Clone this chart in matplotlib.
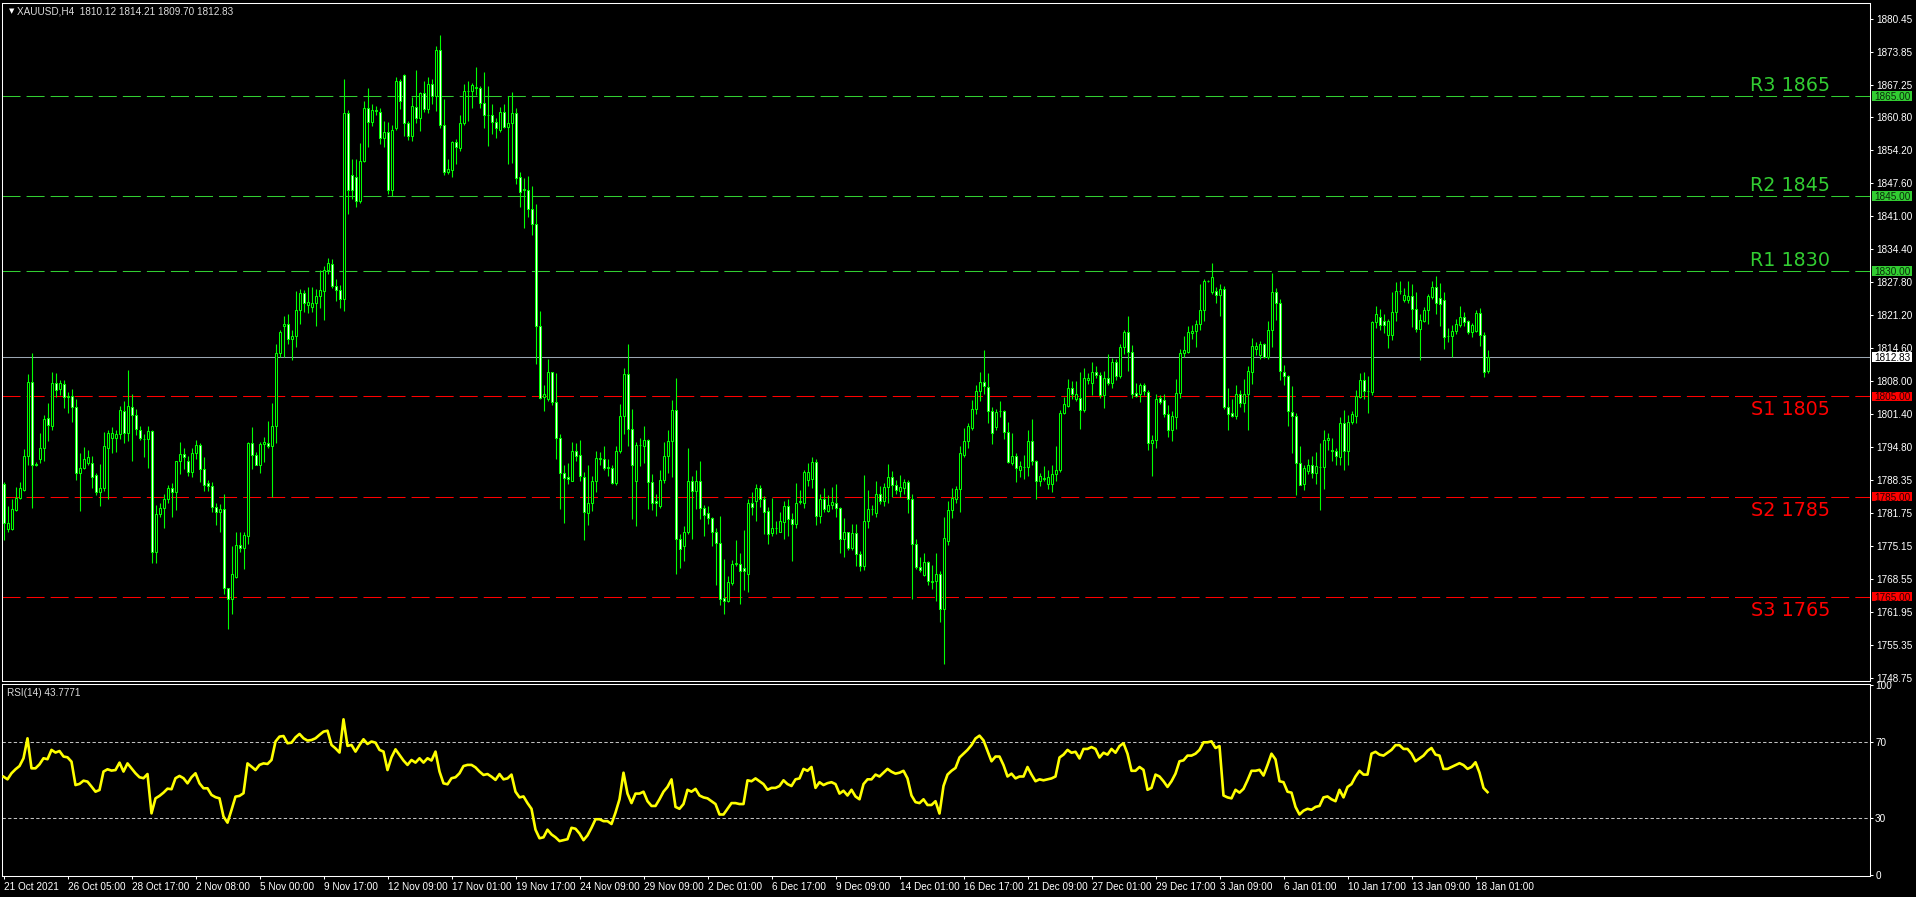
import matplotlib
matplotlib.use("Agg")
import matplotlib.pyplot as plt
import matplotlib.transforms as mtransforms
from matplotlib.patches import Rectangle
import numpy as np

# ---------------- data ----------------
symbol = "XAUUSD,H4"
opens = [
1787.6,1778.6,1778.5,1782.3,1784.8,1786.3,1793.1,1807.8,1791.6,1792.5,
1794.6,1800.6,1799.1,1807.6,1806.5,1807.4,1805.0,1805.0,1802.9,1789.8,
1790.8,1791.7,1791.8,1789.4,1785.9,1786.7,1794.6,1796.6,1796.6,1797.5,
1802.0,1797.6,1802.9,1801.2,1798.3,1796.4,1796.4,1798.1,1773.9,1781.5,
1782.8,1784.5,1786.7,1785.9,1792.1,1793.5,1792.2,1790.0,1793.7,1795.2,
1790.6,1787.7,1787.1,1783.0,1782.0,1782.6,1766.8,1764.6,1768.9,1775.3,
1774.7,1777.2,1795.7,1793.3,1791.3,1795.4,1795.7,1795.0,1799.1,1813.6,
1819.0,1819.4,1816.5,1817.1,1822.3,1825.6,1823.3,1822.8,1823.7,1825.0,
1826.1,1830.2,1831.4,1827.0,1826.2,1824.5,1861.6,1849.2,1848.8,1844.1,
1852.1,1862.7,1859.8,1862.0,1861.8,1856.7,1857.9,1846.2,1858.7,1867.9,
1869.1,1859.6,1857.1,1862.9,1860.6,1865.5,1862.5,1867.4,1865.0,1874.1,
1859.2,1849.9,1850.2,1855.8,1854.6,1859.6,1865.9,1866.0,1866.6,1866.6,
1863.7,1861.2,1861.2,1859.8,1858.2,1861.8,1858.9,1859.6,1861.6,1848.8,
1846.4,1846.3,1842.4,1839.4,1819.0,1804.9,1804.5,1809.9,1803.8,1796.6,
1789.8,1788.9,1788.2,1794.0,1793.3,1789.0,1781.8,1783.8,1788.2,1792.6,
1792.5,1790.9,1790.7,1787.7,1794.0,1801.0,1809.5,1798.5,1788.2,1795.2,
1795.0,1796.2,1788.0,1784.2,1783.2,1788.4,1793.1,1796.1,1802.2,1776.5,
1775.1,1778.0,1788.1,1786.1,1788.1,1782.8,1781.7,1780.7,1778.0,1775.8,
1764.8,1764.1,1767.7,1771.6,1771.6,1770.8,1769.6,1783.8,1784.2,1786.7,
1784.5,1782.2,1777.8,1778.7,1778.0,1779.9,1783.2,1780.5,1779.5,1783.9,
1783.8,1788.4,1788.6,1791.9,1781.2,1784.5,1782.2,1783.4,1783.8,1782.8,
1776.6,1778.0,1774.7,1777.8,1773.5,1771.1,1780.1,1782.5,1781.7,1785.6,
1784.2,1786.9,1788.9,1787.3,1786.1,1786.7,1787.9,1784.6,1775.5,1770.9,
1769.3,1772.0,1768.0,1768.1,1769.6,1762.5,1776.1,1782.3,1784.5,1786.5,
1793.3,1796.1,1798.7,1802.4,1806.0,1807.8,1806.8,1802.0,1798.9,1802.0,
1802.1,1797.9,1791.7,1793.1,1790.3,1791.0,1790.9,1796.1,1792.1,1788.1,
1788.6,1787.5,1787.5,1789.6,1790.3,1801.6,1803.0,1806.6,1804.5,1804.7,
1802.2,1808.3,1807.7,1809.9,1809.3,1805.3,1808.6,1807.7,1811.8,1809.1,
1814.9,1817.8,1813.8,1805.6,1805.5,1807.2,1805.9,1795.6,1796.2,1804.7,
1804.3,1801.4,1798.3,1800.8,1805.7,1813.6,1813.8,1817.7,1818.0,1819.4,
1822.3,1828.1,1825.9,1826.1,1825.2,1826.5,1802.8,1801.6,1801.0,1805.5,
1803.6,1805.5,1809.9,1814.4,1813.2,1815.5,1812.8,1818.2,1825.9,1823.7,
1809.9,1809.1,1801.9,1801.0,1791.7,1787.5,1790.1,1791.4,1789.8,1791.0,
1790.9,1796.2,1794.2,1794.1,1792.9,1799.7,1794.0,1799.9,1801.0,1804.9,
1808.2,1806.0,1805.8,1819.8,1820.8,1820.0,1817.3,1817.3,1821.9,1826.0,
1824.2,1824.3,1825.1,1822.5,1818.4,1820.1,1822.3,1824.8,1826.9,1824.6,
1824.2,1817.0,1817.1,1818.0,1819.2,1820.9,1820.0,1817.9,1818.0,1821.6,
1817.3,1810.12]
highs = [
1788.0,1783.1,1784.6,1787.0,1788.0,1794.4,1809.5,1813.6,1791.9,1797.7,
1801.2,1803.7,1809.9,1809.7,1808.2,1808.2,1805.9,1806.5,1804.5,1793.7,
1794.9,1794.3,1793.1,1789.8,1791.5,1797.9,1798.3,1798.9,1798.3,1803.1,
1804.1,1810.3,1805.5,1802.4,1799.1,1797.5,1799.1,1798.3,1783.4,1783.8,
1785.5,1787.3,1787.8,1792.1,1795.8,1794.7,1793.1,1794.6,1796.2,1795.6,
1792.9,1788.4,1787.9,1783.8,1783.6,1785.5,1766.8,1775.1,1778.0,1778.0,
1778.0,1795.8,1798.9,1793.9,1795.8,1796.9,1800.1,1803.7,1815.4,1818.2,
1821.1,1821.5,1818.2,1826.1,1826.4,1826.2,1826.9,1826.9,1826.4,1830.2,
1831.0,1832.7,1832.5,1828.5,1827.3,1868.4,1862.3,1852.5,1852.4,1855.7,
1864.1,1866.6,1863.5,1863.1,1862.6,1860.0,1859.8,1859.3,1868.7,1868.4,
1869.3,1860.0,1864.9,1870.2,1865.8,1867.9,1868.8,1868.3,1874.9,1877.2,
1864.5,1852.5,1856.0,1856.5,1861.2,1867.4,1868.0,1867.6,1870.7,1867.0,
1869.8,1867.0,1863.5,1860.6,1862.9,1863.5,1865.0,1865.8,1862.6,1849.9,
1848.6,1849.1,1847.1,1843.4,1822.1,1807.2,1812.4,1809.9,1809.7,1797.5,
1791.4,1791.7,1795.8,1795.6,1796.2,1790.0,1791.4,1789.2,1794.0,1793.9,
1795.0,1792.5,1791.3,1795.0,1803.4,1810.7,1815.5,1802.4,1795.8,1796.6,
1799.1,1796.4,1789.6,1785.6,1790.3,1795.8,1798.3,1804.3,1808.7,1777.6,
1779.2,1794.6,1789.2,1790.4,1792.1,1783.4,1783.1,1780.9,1778.8,1781.2,
1772.6,1769.1,1772.4,1776.4,1773.7,1778.4,1784.6,1785.9,1787.5,1787.3,
1785.1,1783.0,1784.8,1780.1,1782.0,1784.2,1784.6,1781.7,1787.7,1786.3,
1790.4,1791.7,1792.9,1792.5,1785.5,1786.7,1785.3,1786.9,1787.5,1783.0,
1780.7,1778.0,1779.5,1779.5,1774.1,1789.4,1786.3,1783.4,1788.1,1787.1,
1787.8,1791.5,1790.2,1788.4,1789.4,1788.6,1788.4,1785.5,1776.5,1773.0,
1773.7,1772.2,1771.4,1773.7,1770.2,1780.9,1784.2,1786.7,1787.1,1795.0,
1798.7,1799.7,1804.3,1807.2,1809.9,1814.3,1809.6,1802.8,1802.4,1804.1,
1802.2,1799.9,1797.7,1793.6,1792.2,1793.3,1798.3,1800.4,1792.3,1789.8,
1791.1,1790.4,1791.4,1795.0,1802.2,1804.9,1808.4,1808.0,1808.0,1809.9,
1810.7,1809.6,1811.9,1811.1,1809.9,1810.1,1813.4,1812.6,1812.4,1815.4,
1818.2,1821.1,1815.3,1807.7,1807.7,1807.7,1806.3,1797.2,1805.5,1805.3,
1805.5,1803.3,1802.0,1808.5,1814.4,1817.1,1819.0,1819.2,1820.2,1827.5,
1828.5,1828.3,1831.6,1826.9,1827.5,1827.0,1806.6,1804.5,1807.2,1806.3,
1808.5,1811.0,1816.7,1815.9,1816.1,1815.7,1820.1,1829.6,1826.7,1824.4,
1811.3,1809.3,1807.0,1801.6,1795.0,1791.3,1792.5,1793.1,1793.9,1795.6,
1798.3,1797.7,1796.6,1794.6,1800.8,1802.3,1801.2,1802.0,1806.3,1809.6,
1809.9,1809.1,1820.1,1823.0,1822.5,1821.5,1820.5,1825.8,1827.9,1828.1,
1826.7,1828.1,1827.4,1825.9,1821.5,1822.9,1825.4,1828.1,1829.1,1827.7,
1825.9,1818.7,1819.2,1820.5,1823.1,1821.9,1820.2,1819.6,1822.3,1822.7,
1817.9,1814.21]
lows = [
1776.4,1778.0,1778.4,1782.2,1784.6,1786.1,1791.3,1782.8,1791.1,1791.7,
1792.1,1796.1,1798.3,1804.9,1805.3,1802.7,1801.6,1799.9,1788.4,1782.2,
1790.6,1791.4,1786.7,1785.3,1783.2,1786.1,1784.6,1793.7,1793.9,1796.4,
1795.6,1796.1,1792.1,1797.2,1796.2,1792.9,1790.7,1771.8,1771.8,1780.9,
1778.7,1783.8,1780.9,1782.3,1789.6,1790.6,1789.2,1788.9,1792.5,1787.9,
1786.1,1786.1,1782.0,1779.3,1778.0,1765.6,1758.6,1761.5,1768.8,1773.9,
1770.6,1775.5,1790.6,1791.3,1789.8,1791.9,1794.6,1785.0,1795.6,1812.8,
1812.8,1815.4,1812.2,1814.9,1819.4,1821.9,1821.7,1821.9,1819.0,1822.6,
1820.2,1829.4,1826.7,1824.0,1822.7,1822.1,1841.4,1844.4,1842.8,1843.6,
1851.9,1854.9,1859.0,1861.2,1855.4,1854.9,1845.5,1845.1,1858.3,1862.5,
1857.1,1856.3,1856.0,1859.6,1858.1,1861.8,1861.6,1863.5,1862.1,1858.7,
1849.2,1849.4,1848.8,1851.5,1854.0,1859.2,1860.0,1862.6,1865.1,1862.6,
1858.7,1855.0,1857.5,1856.7,1857.9,1858.7,1851.5,1851.7,1847.4,1842.8,
1838.6,1840.8,1837.2,1811.5,1804.5,1802.0,1804.1,1803.3,1792.5,1782.6,
1779.8,1787.5,1788.1,1792.1,1788.1,1776.4,1779.4,1782.2,1785.9,1791.4,
1790.3,1789.2,1787.5,1787.3,1793.7,1797.5,1795.0,1780.5,1779.1,1791.1,
1791.8,1782.6,1782.3,1781.2,1782.8,1787.8,1789.8,1788.9,1769.6,1770.7,
1772.1,1777.6,1776.5,1782.6,1780.5,1777.2,1779.5,1775.1,1767.3,1763.3,
1761.6,1763.9,1767.4,1771.2,1763.5,1766.3,1766.0,1781.3,1780.2,1783.0,
1777.6,1775.5,1777.2,1777.6,1778.0,1776.5,1777.2,1772.1,1778.8,1783.6,
1782.8,1787.1,1786.7,1779.3,1779.8,1782.0,1782.0,1782.6,1780.9,1773.7,
1773.0,1774.3,1774.3,1771.2,1770.1,1770.4,1778.8,1781.3,1780.9,1783.6,
1783.1,1783.8,1785.0,1785.5,1785.0,1785.5,1781.7,1764.6,1770.6,1769.9,
1769.1,1767.3,1766.6,1764.1,1759.9,1751.5,1775.4,1780.7,1783.8,1782.0,
1792.9,1794.7,1798.3,1801.4,1804.1,1805.5,1799.7,1795.4,1798.3,1800.8,
1796.4,1791.7,1791.4,1788.0,1788.9,1788.6,1789.2,1791.4,1784.6,1787.1,
1788.1,1786.5,1785.9,1788.1,1790.0,1801.4,1802.9,1804.5,1804.1,1798.5,
1801.9,1807.4,1805.3,1808.7,1804.7,1802.7,1807.2,1806.6,1808.2,1808.6,
1813.4,1810.0,1804.7,1804.9,1803.9,1805.3,1794.2,1789.2,1794.6,1803.5,
1800.8,1796.9,1796.0,1798.5,1804.7,1812.8,1813.6,1816.5,1814.9,1818.2,
1820.1,1827.9,1825.5,1823.6,1821.1,1802.4,1798.3,1800.8,1800.4,1802.9,
1801.9,1798.3,1807.4,1813.2,1812.4,1812.6,1812.4,1814.9,1820.3,1808.2,
1807.2,1799.1,1793.6,1785.3,1787.3,1786.3,1789.6,1788.8,1787.5,1782.4,
1786.5,1794.2,1792.1,1791.3,1791.3,1790.3,1791.4,1799.4,1799.7,1804.7,
1804.5,1801.6,1805.2,1818.6,1818.2,1817.6,1814.6,1816.3,1820.0,1825.5,
1823.8,1823.6,1818.8,1817.8,1812.2,1819.8,1819.4,1824.4,1821.5,1819.0,
1814.4,1815.9,1812.8,1817.4,1818.8,1819.0,1817.5,1816.8,1817.8,1815.0,
1808.9,1809.70]
closes = [
1779.7,1779.7,1782.6,1784.8,1786.7,1793.1,1807.8,1791.4,1791.3,1794.6,
1800.4,1799.3,1807.6,1806.3,1807.6,1804.9,1804.8,1802.9,1789.8,1790.8,
1792.5,1792.9,1789.0,1785.9,1786.7,1795.0,1797.7,1797.7,1797.5,1802.2,
1797.6,1803.0,1801.2,1798.5,1796.6,1796.4,1798.1,1773.9,1781.5,1782.8,
1784.5,1786.7,1785.9,1792.1,1793.5,1792.9,1790.0,1793.7,1795.2,1790.6,
1787.3,1787.1,1783.0,1782.0,1782.6,1766.8,1764.6,1769.6,1775.3,1774.7,
1777.3,1795.7,1793.3,1791.4,1795.4,1795.8,1795.0,1799.1,1813.6,1817.8,
1819.4,1816.5,1817.1,1822.3,1825.6,1823.7,1823.8,1823.7,1825.0,1826.2,
1830.2,1831.6,1827.0,1826.2,1824.5,1861.6,1846.3,1846.3,1844.1,1852.1,
1862.7,1859.8,1862.2,1862.2,1856.7,1857.9,1846.2,1858.3,1867.9,1864.1,
1859.6,1857.1,1863.1,1860.6,1865.5,1862.5,1867.4,1865.0,1874.2,1859.2,
1849.9,1850.5,1855.8,1854.9,1859.6,1866.0,1866.0,1867.2,1866.8,1863.7,
1861.2,1861.3,1859.8,1858.6,1861.8,1858.9,1859.6,1861.6,1848.6,1845.9,
1846.3,1842.4,1839.4,1819.0,1804.7,1805.5,1809.9,1803.8,1796.6,1789.8,
1788.8,1788.6,1794.0,1793.2,1789.2,1781.9,1783.8,1788.2,1792.7,1792.7,
1790.8,1790.8,1787.7,1794.0,1801.0,1809.5,1798.5,1791.4,1795.2,1795.3,
1796.2,1788.0,1783.8,1783.8,1788.4,1793.1,1796.1,1802.2,1776.5,1774.5,
1778.0,1788.1,1786.1,1788.1,1782.8,1781.3,1780.7,1778.0,1775.8,1764.6,
1764.1,1767.9,1771.6,1771.7,1770.1,1770.1,1783.8,1783.0,1786.7,1784.5,
1782.0,1777.6,1778.8,1778.8,1780.1,1783.2,1780.5,1779.5,1783.8,1784.1,
1790.0,1790.0,1791.9,1781.2,1784.5,1782.6,1783.4,1783.9,1782.8,1776.6,
1778.0,1774.7,1777.8,1773.5,1771.1,1780.1,1782.6,1782.6,1785.6,1784.2,
1786.9,1788.9,1787.3,1786.3,1786.9,1787.9,1784.6,1775.5,1770.9,1770.4,
1772.0,1768.1,1768.1,1769.6,1762.5,1776.8,1782.3,1784.8,1786.5,1793.6,
1796.1,1799.1,1802.4,1806.0,1807.8,1807.0,1802.0,1797.6,1801.9,1802.1,
1797.9,1791.9,1793.1,1790.8,1791.1,1791.0,1796.1,1792.1,1788.1,1789.2,
1788.7,1788.9,1789.6,1790.4,1801.6,1803.5,1806.6,1805.5,1805.5,1802.2,
1808.6,1808.6,1809.9,1809.3,1805.3,1808.6,1807.7,1811.8,1809.1,1814.9,
1817.8,1813.8,1805.5,1805.1,1807.2,1806.0,1795.6,1796.2,1804.5,1803.9,
1801.4,1798.3,1801.0,1805.7,1813.6,1814.3,1817.8,1818.0,1819.4,1822.3,
1828.1,1828.1,1828.8,1825.2,1826.5,1802.8,1801.4,1801.0,1805.5,1803.6,
1805.5,1810.1,1815.0,1815.0,1815.5,1812.8,1818.2,1825.9,1823.7,1810.1,
1809.1,1802.0,1801.0,1791.7,1787.4,1790.8,1791.4,1789.8,1791.1,1791.0,
1796.2,1796.6,1794.1,1793.1,1799.7,1794.0,1799.9,1801.4,1805.1,1808.2,
1806.0,1806.0,1819.8,1821.4,1819.2,1819.2,1820.0,1821.9,1826.0,1826.1,
1825.2,1825.1,1822.5,1818.4,1820.2,1822.3,1825.1,1826.9,1823.6,1823.4,
1816.9,1817.1,1818.0,1819.4,1820.9,1819.8,1817.9,1819.2,1821.6,1817.3,
1809.9,1812.83]
rsi_values = [
51.9,50.5,53.7,55.8,57.5,61.6,72.1,56.3,56.3,58.4,
61.6,61.1,66.0,64.6,65.4,62.5,62.1,59.8,47.5,48.1,
49.8,49.3,46.7,44.0,44.9,54.6,55.8,55.1,55.4,59.3,
54.6,58.9,56.3,53.7,51.6,51.1,53.3,32.6,40.5,41.8,
43.5,45.6,45.3,51.1,52.3,51.1,48.4,51.6,53.7,48.4,
45.8,45.8,42.3,41.1,40.5,30.9,27.7,34.4,41.4,41.8,
43.2,58.9,57.2,55.4,58.1,58.9,58.6,60.7,70.4,73.0,
73.3,69.5,69.8,72.6,74.4,72.1,70.9,71.2,72.1,73.9,
75.6,76.1,68.6,66.8,64.6,82.1,68.1,68.6,65.1,68.6,
71.6,69.1,70.4,69.8,66.0,65.1,55.4,62.1,66.3,63.3,
60.4,58.1,60.7,59.3,61.6,59.3,61.6,60.4,65.1,54.6,
48.4,47.9,51.1,51.6,53.7,57.5,58.1,58.1,56.8,54.6,
52.8,53.3,51.9,50.2,53.3,50.5,51.0,53.0,44.0,41.0,
41.5,38.0,35.0,24.0,19.5,20.0,24.0,21.5,20.0,18.0,
18.5,19.0,25.0,24.5,22.0,18.5,21.0,25.0,29.5,29.5,
28.5,28.5,27.0,33.0,40.0,54.0,43.0,38.0,43.0,43.0,
44.0,39.0,36.5,36.5,40.0,44.0,46.5,50.5,36.0,35.0,
37.5,45.0,44.0,45.5,42.0,41.0,40.5,39.0,37.5,32.0,
32.0,35.0,38.0,38.0,37.5,37.5,50.0,49.5,51.0,49.5,
48.0,45.0,46.0,46.0,47.0,50.0,48.0,47.0,50.5,51.0,
56.0,55.0,57.0,46.0,49.0,47.5,48.5,49.0,48.0,43.0,
44.5,42.0,45.0,41.5,40.0,48.0,50.5,50.5,53.0,52.0,
54.0,56.0,54.5,53.5,54.0,55.0,51.0,42.0,38.5,38.0,
40.0,37.0,37.0,39.0,32.5,47.0,53.0,55.0,56.5,62.0,
64.0,66.0,68.5,72.0,73.5,71.0,65.5,60.0,62.5,62.5,
58.0,52.0,53.5,51.0,52.0,52.0,57.0,53.0,49.5,50.5,
50.0,50.5,51.0,52.0,62.0,63.5,66.0,64.5,65.0,61.5,
66.5,66.5,67.5,66.5,62.0,64.5,63.5,66.5,64.5,68.0,
69.5,64.0,55.0,55.0,57.0,55.5,45.0,46.0,53.0,52.0,
49.5,46.5,49.5,53.5,60.0,60.5,63.0,63.0,64.0,66.0,
70.0,70.0,70.5,67.0,68.0,42.0,41.0,40.5,45.0,43.5,
45.5,50.0,55.0,55.0,55.5,52.5,58.0,64.0,61.0,49.5,
49.0,44.0,43.5,36.0,32.0,34.0,35.0,34.5,36.0,36.5,
41.0,41.5,40.0,39.0,45.0,41.0,46.5,48.0,52.0,55.0,
53.0,53.0,64.0,65.0,63.5,63.0,64.5,66.0,68.5,68.5,
66.5,66.5,64.0,60.0,61.5,63.0,65.5,67.0,63.5,63.0,
56.0,56.0,57.0,58.0,59.0,58.0,56.0,57.0,59.5,54.0,
46.0,43.7771]

level_names = ["R3", "R2", "R1", "S1", "S2", "S3"]
level_values = [1865, 1845, 1830, 1805, 1785, 1765]

price_tick_labels = ["1880.45", "1873.85", "1867.25", "1860.80", "1854.20", "1847.60",
                     "1841.00", "1834.40", "1827.80", "1821.20", "1814.60", "1808.00",
                     "1801.40", "1794.80", "1788.35", "1781.75", "1775.15", "1768.55",
                     "1761.95", "1755.35", "1748.75"]
rsi_tick_labels = ["100", "70", "30", "0"]
date_labels = ["21 Oct 2021", "26 Oct 05:00", "28 Oct 17:00", "2 Nov 08:00", "5 Nov 00:00",
               "9 Nov 17:00", "12 Nov 09:00", "17 Nov 01:00", "19 Nov 17:00", "24 Nov 09:00",
               "29 Nov 09:00", "2 Dec 01:00", "6 Dec 17:00", "9 Dec 09:00", "14 Dec 01:00",
               "16 Dec 17:00", "21 Dec 09:00", "27 Dec 01:00", "29 Dec 17:00", "3 Jan 09:00",
               "6 Jan 01:00", "10 Jan 17:00", "13 Jan 09:00", "18 Jan 01:00"]
bars_per_label = 16

# ---------------- style ----------------
plt.rcParams["font.family"] = ["Liberation Sans", "DejaVu Sans"]
LIME = "#00ff00"
RGREEN = "#32cd32"
RRED = "#ff0000"
W, H = 1916, 897
fig = plt.figure(figsize=(W / 100, H / 100), dpi=100, facecolor="black")

ax = fig.add_axes([2 / W, (H - 681) / H, 1868 / W, 678 / H], facecolor="black")
ax2 = fig.add_axes([2 / W, (H - 876) / H, 1868 / W, 192 / H], facecolor="black")

o = np.array(opens); h = np.array(highs); l = np.array(lows); c = np.array(closes)
idx = np.arange(len(c))
xlim = (-0.375, 466.625)

# candles
ax.vlines(idx, l, h, color=LIME, lw=0.8, zorder=3)
bull = c >= o
bottom = np.minimum(o, c)
height = np.abs(c - o)
ax.bar(idx[bull], height[bull], bottom=bottom[bull], width=0.5,
       facecolor="black", edgecolor=LIME, linewidth=0.75, zorder=4)
ax.bar(idx[~bull], height[~bull], bottom=bottom[~bull], width=0.5,
       facecolor="white", edgecolor=LIME, linewidth=0.75, zorder=4)

ax.set_xlim(*xlim)
ax.set_ylim(1748.163, 1883.574)

# levels
blend = mtransforms.blended_transform_factory(ax.transAxes, ax.transData)
for name, v in zip(level_names, level_values):
    col = RGREEN if name.startswith("R") else RRED
    ax.axhline(v, color=col, lw=0.75, linestyle=(0, (17.3, 5.8)), zorder=2)
    if name.startswith("R"):
        tr = mtransforms.offset_copy(blend, fig=fig, x=0, y=5, units="dots")
        ax.text((1830 - 2) / 1868, v, f"{name} {v}", color=col, fontsize=13.8,
                family="DejaVu Sans", ha="right", va="baseline", transform=tr, zorder=5)
    else:
        tr = mtransforms.offset_copy(blend, fig=fig, x=0, y=-4, units="dots")
        ax.text((1830 - 2) / 1868, v, f"{name} {v}", color=col, fontsize=13.8,
                family="DejaVu Sans", ha="right", va="top", transform=tr, zorder=5)

# current price line
ax.axhline(c[-1], color="#9aa6b2", lw=0.75, zorder=2)

# axes styling
for a in (ax, ax2):
    for s in a.spines.values():
        s.set_color("white")
        s.set_linewidth(0.75)

ax.set_xticks([])
ax.yaxis.tick_right()
ax.set_yticks([float(t) for t in price_tick_labels])
ax.set_yticklabels(price_tick_labels)
ax.tick_params(axis="y", length=2.2, width=0.75, color="white", labelcolor="white",
               labelsize=7.2, pad=2.5)

# RSI
ax2.plot(idx, rsi_values, color="#ffff00", lw=1.9, zorder=3)
for lv in (70, 30):
    ax2.axhline(lv, color="#c0c0c0", lw=0.75, linestyle=(0, (3.2, 2.2)), zorder=2)
ax2.set_xlim(*xlim)
ax2.set_ylim(-0.37, 100.68)
ax2.yaxis.tick_right()
ax2.set_yticks([float(t) for t in rsi_tick_labels])
ax2.set_yticklabels(rsi_tick_labels)
ax2.tick_params(axis="y", length=2.2, width=0.75, color="white", labelcolor="white",
                labelsize=7.2, pad=1.5)
xt = np.arange(len(date_labels)) * bars_per_label
ax2.set_xticks(xt)
ax2.set_xticklabels(date_labels, ha="left")
ax2.tick_params(axis="x", length=2.2, width=0.75, color="white", labelcolor="white",
                labelsize=7.2, pad=1.8)

# price-axis highlight boxes
fig.canvas.draw()
def box(v, fc, tc):
    yd = ax.transData.transform((0, v))[1]
    fig.add_artist(Rectangle((1872 / W, (yd - 4.8) / H), 40 / W, 9.6 / H,
                             transform=fig.transFigure, facecolor=fc, edgecolor="none", zorder=10))
    fig.text(1874 / W, yd / H, f"{v:.2f}", color=tc, fontsize=7.2, ha="left",
             va="center_baseline", zorder=11)

for name, v in zip(level_names, level_values):
    if name.startswith("R"):
        box(v, RGREEN, "#0a2a0a")
    else:
        box(v, RRED, "#2a0000")
box(c[-1], "white", "black")

# titles
fig.text(9 / W, 1 - 11 / H, "\u25bc", color="white", fontsize=5, family="DejaVu Sans",
         ha="left", va="center")
fig.text(17 / W, 1 - 11 / H,
         f"{symbol}  {o[-1]:.2f} {h[-1]:.2f} {l[-1]:.2f} {c[-1]:.2f}",
         color="#dcdcdc", fontsize=7.2, ha="left", va="center")
fig.text(7 / W, 1 - 693 / H, f"RSI(14) {rsi_values[-1]:.4f}", color="#dcdcdc",
         fontsize=7.2, ha="left", va="center")

fig.savefig("out.png", dpi=100, facecolor="black")
